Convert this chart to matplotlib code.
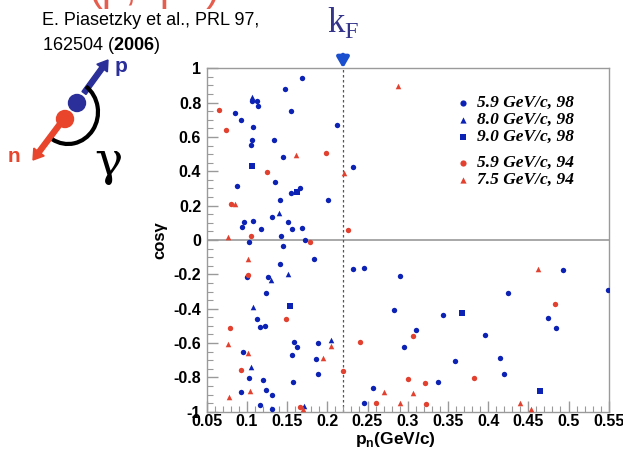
import numpy as np
import matplotlib
matplotlib.use('Agg')
from matplotlib import pyplot as plt
from matplotlib.patches import Arc, Circle, FancyArrow

plt.rcParams['font.family'] = ['Liberation Sans', 'DejaVu Sans']
plt.rcParams['mathtext.fontset'] = 'custom'
plt.rcParams['mathtext.rm'] = 'Liberation Sans'
plt.rcParams['mathtext.bf'] = 'Liberation Sans:bold'

# 5.9 GeV/c, 98 (blue circles)
b59_x = [0.1686, 0.1478, 0.1549, 0.0852, 0.0927, 0.1064, 0.1122, 0.1143, 0.1080, 0.1064,
         0.1056, 0.1333, 0.1449, 0.2117, 0.2320, 0.0881, 0.1354, 0.1416, 0.1549, 0.1661,
         0.2013, 0.1317, 0.1512, 0.1565, 0.1690, 0.1072, 0.0968, 0.0944, 0.1180, 0.1424,
         0.1027, 0.1454, 0.1719, 0.1408, 0.1839, 0.1002, 0.1267, 0.1242, 0.1126, 0.1159,
         0.1221, 0.1590, 0.1624, 0.1565, 0.1880, 0.0952, 0.1860, 0.1889, 0.1031, 0.1205,
         0.0923, 0.1242, 0.1313, 0.1163, 0.1317, 0.1574, 0.2316, 0.2461, 0.2573, 0.2461,
         0.2905, 0.2830, 0.3099, 0.2958, 0.3435, 0.3958, 0.4252, 0.3588, 0.4148, 0.4198,
         0.3373, 0.4741, 0.4849, 0.4928, 0.5488]
b59_y = [0.941, 0.879, 0.754, 0.739, 0.696, 0.807, 0.810, 0.783, 0.659, 0.581,
         0.552, 0.581, 0.486, 0.669, 0.424, 0.313, 0.338, 0.235, 0.274, 0.305,
         0.231, 0.134, 0.103, 0.062, 0.068, 0.111, 0.103, 0.078, 0.066, 0.021,
         -0.010, -0.033, -0.002, -0.142, -0.113, -0.216, -0.214, -0.309, -0.459, -0.507,
         -0.503, -0.595, -0.626, -0.672, -0.601, -0.651, -0.692, -0.779, -0.803, -0.818,
         -0.886, -0.871, -0.900, -0.962, -0.982, -0.828, -0.167, -0.163, -0.861, -0.950,
         -0.208, -0.410, -0.525, -0.622, -0.437, -0.556, -0.307, -0.707, -0.688, -0.783,
         -0.826, -0.453, -0.515, -0.175, -0.292]

# 8.0 GeV/c, 98 (blue triangles)
b80_x = [0.1064, 0.1395, 0.1300, 0.1516, 0.1072, 0.1047, 0.1711, 0.2051]
b80_y = [0.832, 0.155, -0.235, -0.196, -0.393, -0.739, -0.968, -0.585]

# 9.0 GeV/c, 98 (blue squares)
b90_x = [0.1064, 0.1624, 0.1541, 0.3680, 0.4650]
b90_y = [0.431, 0.280, -0.385, -0.426, -0.882]

# 5.9 GeV/c, 94 (red circles)
r59_x = [0.0658, 0.0745, 0.1255, 0.1980, 0.2254, 0.1047, 0.1780, 0.0807, 0.0790, 0.1010,
         0.1483, 0.0927, 0.2192, 0.2407, 0.2606, 0.1661, 0.3072, 0.2998, 0.3214, 0.3829,
         0.3223, 0.4832]
r59_y = [0.756, 0.641, 0.397, 0.509, 0.060, 0.025, -0.010, 0.210, -0.515, -0.204,
         -0.459, -0.760, -0.762, -0.595, -0.952, -0.972, -0.560, -0.807, -0.834, -0.805,
         -0.954, -0.371]

# 7.5 GeV/c, 94 (red triangles)
r75_x = [0.0848, 0.1607, 0.2208, 0.0770, 0.2884, 0.1014, 0.0770, 0.1014, 0.1043, 0.0782,
         0.2051, 0.1951, 0.2710, 0.1703, 0.2900, 0.4625, 0.3062, 0.4393, 0.4534]
r75_y = [0.210, 0.494, 0.389, 0.017, 0.898, -0.113, -0.608, -0.661, -0.882, -0.914,
         -0.618, -0.688, -0.884, -0.983, -0.948, -0.169, -0.894, -0.948, -0.983]

labels = ['5.9 GeV/c, 98', '8.0 GeV/c, 98', '9.0 GeV/c, 98', '5.9 GeV/c, 94', '7.5 GeV/c, 94']
k_f = 0.22

BLUE = '#0b22b4'
RED = '#e2412f'
GRID = '#9a9a9a'

fig = plt.figure(figsize=(6.23, 4.5), dpi=100)

ax = fig.add_axes([206.7 / 623, 1 - 411.7 / 450, 402 / 623, 343.4 / 450])
ax.scatter(b59_x, b59_y, s=15, marker='o', color=BLUE, lw=0, zorder=3)
ax.scatter(b80_x, b80_y, s=16, marker='^', color=BLUE, lw=0, zorder=3)
ax.scatter(b90_x, b90_y, s=18, marker='s', color=BLUE, lw=0, zorder=3)
ax.scatter(r59_x, r59_y, s=15, marker='o', color=RED, lw=0, zorder=3)
ax.scatter(r75_x, r75_y, s=16, marker='^', color=RED, lw=0, zorder=3)

ax.axhline(0, color=GRID, lw=1.2, zorder=1)
ax.axvline(k_f, color='#555555', lw=0.9, ls=(0, (2, 2)), zorder=1)

ax.set_xlim(0.05, 0.55)
ax.set_ylim(-1, 1)
ax.set_xticks(np.arange(0.05, 0.551, 0.05))
ax.set_xticklabels(['0.05', '0.1', '0.15', '0.2', '0.25', '0.3', '0.35', '0.4',
                    '0.45', '0.5', '0.55'])
ax.set_yticks(np.arange(-1, 1.01, 0.2))
ax.set_yticklabels(['-1', '-0.8', '-0.6', '-0.4', '-0.2', '0', '0.2', '0.4',
                    '0.6', '0.8', '1'])
ax.set_xticks(np.arange(0.05, 0.551, 0.01), minor=True)
ax.set_yticks(np.arange(-1, 1.01, 0.05), minor=True)
ax.tick_params(which='both', direction='in', color=GRID, top=False, right=False)
ax.tick_params(which='major', length=8, width=1, labelsize=11.5, pad=4)
ax.tick_params(axis='x', which='major', labelsize=11.5, pad=2)
ax.tick_params(which='minor', length=4, width=0.8)
for lab in ax.get_xticklabels() + ax.get_yticklabels():
    lab.set_fontweight('bold')
for sp in ax.spines.values():
    sp.set_color(GRID)
    sp.set_linewidth(1)

ax.set_xlabel(r'p$_\mathregular{n}$(GeV/c)', fontsize=12.5, fontweight='bold')
ax.xaxis.set_label_coords(0.47, -0.052)
ax.set_ylabel('cosγ', fontsize=12, fontweight='bold', labelpad=4)

# overlay in pixel coordinates for the sketch, legend and annotations
ov = fig.add_axes([0, 0, 1, 1])
ov.set_zorder(10)
ov.set_xlim(0, 623)
ov.set_ylim(450, 0)
ov.axis('off')

ov.text(88, 9, '(p,2pn)', color=RED, fontsize=30, ha='left', va='bottom', alpha=0.85)
ov.text(42, 25, 'E. Piasetzky et al., PRL 97,', fontsize=13, va='baseline')
ov.text(42, 50, r'162504 ($\mathbf{2006}$)', fontsize=13, va='baseline')

# p / n sketch
ov.add_patch(FancyArrow(84, 93, 24, -33, width=5, head_width=13, head_length=10,
                        color='#2a2f9a', length_includes_head=True))
ov.add_patch(FancyArrow(60, 124, -27, 36, width=5, head_width=13, head_length=10,
                        color='#e8452c', length_includes_head=True))
ov.add_patch(Circle((77, 103), 8.5, color='#2a2f9a', zorder=3))
ov.add_patch(Circle((65, 119), 8.5, color='#e8452c', zorder=3))
ov.add_patch(Arc((68, 112), 60, 64, angle=0, theta1=-55, theta2=120,
                 color='black', lw=3))
ov.text(121, 66, 'p', color='#2a2f9a', fontsize=15, fontweight='bold', ha='center', va='center')
ov.text(14, 156, 'n', color='#e8452c', fontsize=15, fontweight='bold', ha='center', va='center')
ov.text(108, 162, 'γ', fontsize=34, family='DejaVu Serif', ha='center', va='center')

# k_F arrow and label
ov.text(343, 22, r'k$_\mathregular{F}$', color='#34348a', fontsize=25,
        family='Liberation Serif', ha='center', va='center')
ov.annotate('', xy=(343, 71), xytext=(343, 52),
            arrowprops=dict(arrowstyle='-|>,head_width=0.35,head_length=0.6',
                            color='#1a4fd0', lw=3))

# legend
markers = ['o', '^', 's', 'o', '^']
colors = [BLUE, BLUE, BLUE, RED, RED]
rows = [102.7, 120, 137.3, 163.3, 180]
for lab, m, c, yy in zip(labels, markers, colors, rows):
    ov.scatter([463], [yy], s=20, marker=m, color=c, lw=0, zorder=5)
    ov.text(477, yy, lab, fontsize=12.5, family='Liberation Serif', fontweight='bold',
            style='italic', va='center', ha='left', zorder=5)

fig.savefig('out.png', dpi=100)
